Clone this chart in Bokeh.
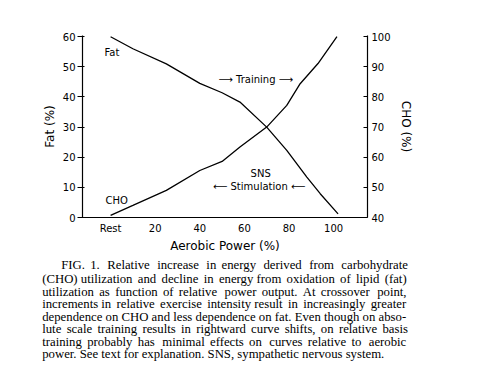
from bokeh.plotting import figure
from bokeh.models import Range1d, LinearAxis, FixedTicker, ColumnDataSource, Title
from bokeh.core.properties import value
from bokeh.embed import file_html
from bokeh.resources import INLINE

# ---- data ----
power_fat = [0, 10, 25, 40, 50, 58, 70, 79, 88, 94, 102]
fat_pct = [60, 56, 51, 44.5, 41.4, 38.3, 30, 22.3, 13.4, 7.9, 1.2]
power_cho = [0, 10, 25, 40, 50, 58, 70, 79, 85, 93, 101.5]
cho_pct = [40.7, 44, 49, 55.6, 58.6, 63.4, 70, 77.2, 84.4, 91.1, 100]
x_ticks = [0, 20, 40, 60, 80, 100]
x_tick_labels = ["Rest", "20", "40", "60", "80", "100"]
fat_ticks = [0, 10, 20, 30, 40, 50, 60]
cho_ticks = [40, 50, 60, 70, 80, 90, 100]

caption_lines = [
    "FIG. 1. Relative increase in energy derived from carbohydrate",
    "(CHO) utilization and decline in energy from oxidation of lipid (fat)",
    "utilization as function of relative power output. At crossover point,",
    "increments in relative exercise intensity result in increasingly greater",
    "dependence on CHO and less dependence on fat. Even though on abso-",
    "lute scale training results in rightward curve shifts, on relative basis",
    "training probably has minimal effects on curves relative to aerobic",
    "power. See text for explanation. SNS, sympathetic nervous system.",
]

SANS = "DejaVu Sans"
SERIF = "Liberation Serif"

W, H = 484, 384
FL, FR, FT, FB = 82, 367, 35, 217   # frame edges in canvas px
X0, X1 = -12.6, 115.2
Y0, Y1 = 0, 60.4

p = figure(width=W, height=H, x_range=Range1d(X0, X1),
           y_range=Range1d(Y0, Y1), output_backend="svg", toolbar_location=None,
           min_border_left=FL, min_border_right=W - FR, min_border_top=FT,
           min_border_bottom=H - FB)
p.outline_line_color = None
p.xgrid.visible = False
p.ygrid.visible = False
p.background_fill_color = "white"
p.border_fill_color = "white"

p.extra_y_ranges = {"cho": Range1d(40, 40 + Y1)}

# curves
p.line(power_fat, fat_pct, line_color="black", line_width=1.3)
p.line(power_cho, cho_pct, y_range_name="cho", line_color="black", line_width=1.3)

# axes styling
xa = p.xaxis[0]
xa.ticker = FixedTicker(ticks=x_ticks)
xa.major_label_overrides = {t: l for t, l in zip(x_ticks, x_tick_labels)}
xa.major_tick_out = 0
xa.major_tick_in = 0
xa.minor_tick_out = 0
xa.minor_tick_in = 0
xa.major_label_standoff = 5
xa.axis_label = "Aerobic Power (%)"
xa.axis_label_standoff = 2

ya = p.yaxis[0]
ya.ticker = FixedTicker(ticks=fat_ticks)
ya.major_tick_out = 5
ya.major_tick_in = 2
ya.minor_tick_out = 0
ya.minor_tick_in = 0
ya.major_label_standoff = 2
ya.axis_label = "Fat (%)"
ya.axis_label_standoff = 3

ra = LinearAxis(y_range_name="cho", ticker=FixedTicker(ticks=cho_ticks),
                axis_label="CHO (%)")
ra.major_tick_out = 0
ra.major_tick_in = 4
ra.minor_tick_out = 0
ra.minor_tick_in = 0
ra.major_label_standoff = 4
ra.axis_label_standoff = 5
p.add_layout(ra, "right")

for ax in (xa, ya, ra):
    ax.axis_line_color = "black"
    ax.axis_line_width = 1.2
    ax.major_tick_line_color = "black"
    ax.major_label_text_font = SANS
    ax.major_label_text_font_size = "10px"
    ax.major_label_text_color = "black"
    ax.axis_label_text_font = SANS
    ax.axis_label_text_font_size = "12px"
    ax.axis_label_text_font_style = "normal"
    ax.axis_label_text_color = "black"

# annotations (data coordinates of the left axis)
ann = ColumnDataSource(dict(
    x=[0.6, 2.7, 65.1, 67.3, 66.6],
    y=[54.8, 5.5, 45.8, 14.6, 10.3],
    t=["Fat", "CHO", "\u27f6 Training \u27f6", "SNS", "\u27f5 Stimulation \u27f5"],
))
p.text(x="x", y="y", text="t", source=ann, text_font=value(SANS),
       text_font_size="10px", text_align="center", text_baseline="middle",
       text_color="black")

# ---- caption: one Title per line below the x axis, justified ----
TW = {' ': 250, '.': 250, ',': 250, '(': 333, ')': 333, '-': 333, '1': 500,
      'A': 722, 'C': 667, 'E': 611, 'F': 556, 'G': 722, 'H': 722, 'I': 333,
      'N': 722, 'O': 722, 'R': 667, 'S': 556,
      'a': 444, 'b': 500, 'c': 444, 'd': 500, 'e': 444, 'f': 333, 'g': 500,
      'h': 500, 'i': 278, 'j': 278, 'k': 500, 'l': 278, 'm': 778, 'n': 500,
      'o': 500, 'p': 500, 'q': 500, 'r': 333, 's': 389, 't': 278, 'u': 500,
      'v': 500, 'w': 722, 'x': 500, 'y': 500, 'z': 444}


def em_width(s):
    return sum(TW.get(c, 500) for c in s) / 1000.0

RIGHT = 406.7
lefts = [60.7] + [41.7] * (len(caption_lines) - 1)
targets = [RIGHT - l for l in lefts]
ems = [em_width(l) for l in caption_lines]
FS = round(min(t / e for t, e in zip(targets[:-1], ems[:-1])) * 0.997, 2)
SIX = "\u2006"      # six-per-em space, used to justify
unit = FS / 6.0

standoffs = [0, -3, -4, -3, -4, -3, -4, -3]
for i, line in enumerate(caption_lines):
    words = line.split(" ")
    text = line
    if i < len(caption_lines) - 1:
        extra = targets[i] - ems[i] * FS
        k = max(0, int(round(extra / unit)))
        g = len(words) - 1
        text = words[0]
        for j in range(g):
            n = (k * (j + 1)) // g - (k * j) // g
            text += " " + SIX * n + words[j + 1]
    t = Title(text=text, align="left", offset=lefts[i] - FL,
              text_font=SERIF, text_font_size=f"{FS}px",
              text_font_style="normal", text_color="black",
              standoff=standoffs[i])
    p.add_layout(t, "below")

open("out.html", "w").write(file_html(p, INLINE))
